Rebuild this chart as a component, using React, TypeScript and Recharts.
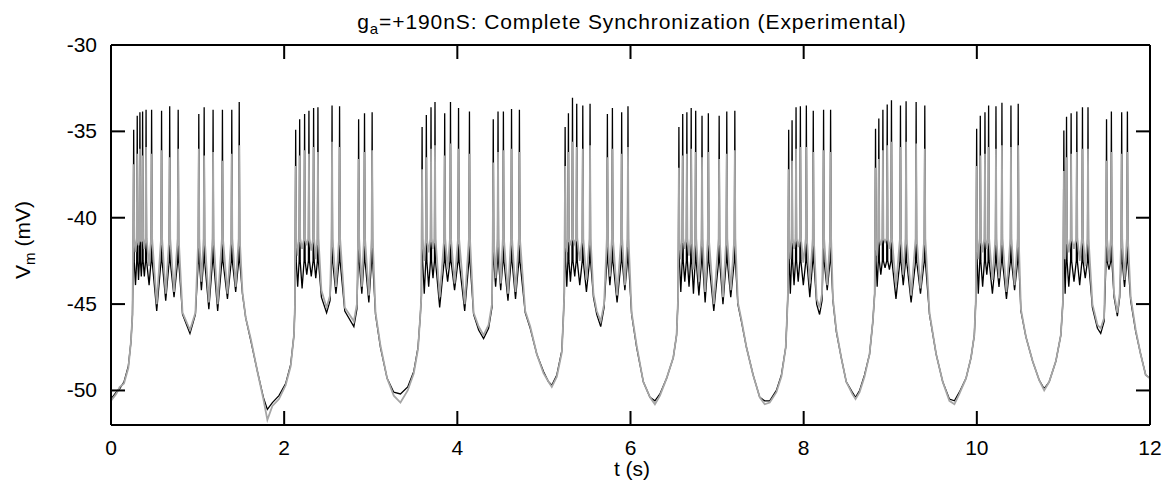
import React from 'react';
import { LineChart, Line, XAxis, YAxis } from 'recharts';

// spikes: [time (s), black peak (mV), gray peak (mV)]
const spikes: [number, number, number][] = [
    // burst A
    [0.262, -34.9, -36.9], [0.303, -34.1, -36.3], [0.334, -33.9, -36.0], [0.365, -33.85, -36.4],
    [0.405, -33.75, -35.9], [0.469, -33.75, -36.3], [0.584, -33.8, -36.1], [0.678, -33.55, -36.5],
    [0.776, -33.75, -36.0], [1.014, -34.0, -36.0], [1.076, -33.6, -36.4], [1.179, -33.75, -36.2],
    [1.287, -33.75, -36.7], [1.395, -33.75, -36.3], [1.481, -33.3, -35.8],
    // burst B
    [2.133, -34.9, -37.0], [2.179, -34.3, -36.4], [2.236, -34.0, -36.1], [2.286, -33.8, -36.3],
    [2.340, -33.65, -35.9], [2.390, -33.6, -36.2], [2.553, -33.5, -35.6], [2.640, -33.55, -35.9],
    [2.860, -34.3, -36.6], [2.928, -33.95, -36.2], [3.016, -33.9, -36.1],
    // burst C
    [3.593, -34.75, -37.2], [3.642, -34.05, -36.5], [3.696, -33.6, -36.0], [3.742, -33.3, -35.8],
    [3.854, -33.95, -36.4], [3.921, -33.3, -35.7], [4.014, -33.65, -36.0], [4.140, -33.85, -36.3],
    [4.415, -34.3, -36.8], [4.470, -33.85, -36.2], [4.532, -33.85, -36.1], [4.626, -33.7, -36.0],
    [4.717, -33.75, -36.2],
    // burst D
    [5.245, -34.75, -37.0], [5.283, -33.95, -36.2], [5.330, -33.05, -35.6], [5.379, -33.4, -35.9],
    [5.449, -33.5, -36.0], [5.533, -33.4, -35.8], [5.733, -34.0, -36.5], [5.791, -33.65, -36.0],
    [5.898, -33.9, -36.3], [5.971, -33.55, -35.9],
    // burst E
    [6.559, -34.75, -37.1], [6.603, -34.0, -36.4], [6.651, -33.9, -36.3], [6.701, -33.65, -36.0],
    [6.753, -33.8, -36.2], [6.826, -34.1, -36.5], [6.899, -33.95, -36.2], [7.024, -34.1, -36.6],
    [7.112, -33.85, -36.3], [7.205, -33.8, -36.1],
    // burst F
    [7.827, -34.9, -37.2], [7.866, -34.35, -36.7], [7.912, -33.6, -36.0], [7.962, -33.55, -35.9],
    [8.031, -33.5, -35.9], [8.111, -33.8, -36.2], [8.230, -33.75, -36.1], [8.311, -33.75, -36.2],
    // burst G
    [8.830, -34.85, -37.1], [8.868, -34.25, -36.6], [8.915, -33.75, -36.1], [8.965, -33.45, -35.8],
    [9.014, -33.2, -35.6], [9.118, -33.5, -35.9], [9.183, -33.25, -35.6], [9.299, -33.3, -35.7],
    [9.399, -33.5, -36.0],
    // burst H
    [9.998, -34.85, -37.0], [10.040, -34.1, -36.4], [10.094, -33.9, -36.3], [10.136, -33.5, -35.9],
    [10.221, -33.55, -36.0], [10.290, -33.35, -35.8], [10.394, -33.5, -35.9], [10.478, -33.4, -35.8],
    // burst I
    [11.005, -34.95, -37.3], [11.036, -34.15, -36.5], [11.089, -33.95, -36.3], [11.155, -33.85, -36.2],
    [11.220, -33.6, -36.0], [11.284, -33.6, -36.0], [11.498, -34.3, -36.7], [11.554, -33.85, -36.2],
    [11.673, -33.9, -36.3], [11.739, -33.85, -36.2],
];

// slow wave and inter-spike troughs: [time (s), black (mV), gray (mV)]
const slowWave: [number, number, number][] = [
    [0.000, -50.5, -50.6], [0.060, -50.1, -50.2], [0.100, -49.9, -49.8], [0.150, -49.5, -49.6],
    [0.200, -48.6, -48.7], [0.230, -47.2, -47.2], [0.248, -45.6, -45.6],
    [0.283, -43.9, -42.0], [0.318, -43.6, -41.6], [0.350, -43.4, -41.4], [0.385, -43.4, -41.8],
    [0.440, -43.9, -42.8], [0.528, -45.4, -45.0], [0.632, -44.8, -44.4], [0.728, -44.6, -44.3],
    [0.826, -45.6, -45.5], [0.912, -46.7, -46.5], [0.975, -45.6, -45.5],
    [1.044, -44.2, -43.7], [1.130, -45.3, -44.9], [1.232, -45.4, -45.0], [1.345, -44.7, -44.4],
    [1.440, -44.3, -44.0],
    [1.518, -44.4, -44.3], [1.556, -45.8, -45.8], [1.614, -47.1, -47.0], [1.691, -48.9, -48.9],
    [1.760, -50.4, -50.5], [1.806, -51.1, -51.7], [1.864, -50.7, -50.9], [1.940, -50.3, -50.5],
    [2.017, -49.6, -49.7], [2.075, -48.5, -48.6], [2.113, -46.8, -46.8], [2.125, -45.0, -45.0],
    [2.156, -44.0, -42.2], [2.207, -44.1, -41.8], [2.261, -43.3, -41.6], [2.313, -43.4, -41.9],
    [2.365, -43.5, -42.4], [2.430, -44.6, -44.2], [2.490, -45.5, -45.2], [2.530, -44.8, -44.5],
    [2.598, -44.4, -44.0], [2.700, -45.4, -45.2], [2.805, -46.3, -46.0], [2.840, -45.3, -45.0],
    [2.897, -44.4, -44.0], [2.978, -44.9, -44.5],
    [3.055, -45.6, -45.5], [3.112, -47.5, -47.4], [3.189, -49.3, -49.3], [3.266, -50.1, -50.3],
    [3.343, -50.2, -50.7], [3.427, -49.8, -50.0], [3.497, -48.9, -49.0], [3.546, -47.5, -47.6],
    [3.573, -45.6, -45.6], [3.585, -44.5, -44.5],
    [3.618, -44.4, -42.5], [3.669, -44.0, -42.0], [3.719, -43.5, -41.8], [3.796, -45.2, -44.6],
    [3.888, -43.7, -43.0], [3.968, -44.2, -43.8], [4.085, -45.4, -45.0],
    [4.188, -45.6, -45.5], [4.246, -46.5, -46.3], [4.303, -47.0, -46.8], [4.361, -46.4, -46.2],
    [4.400, -45.2, -45.0], [4.442, -44.0, -43.5], [4.501, -44.2, -43.8], [4.585, -44.8, -44.4],
    [4.672, -44.7, -44.3],
    [4.784, -45.5, -45.4], [4.842, -46.4, -46.3], [4.918, -47.9, -47.9], [4.995, -48.9, -49.0],
    [5.053, -49.5, -49.5], [5.091, -49.7, -49.8], [5.149, -49.1, -49.2], [5.207, -47.7, -47.8],
    [5.226, -45.6, -45.6], [5.236, -44.3, -44.3],
    [5.264, -44.0, -42.0], [5.306, -43.7, -41.6], [5.356, -43.4, -41.5], [5.414, -43.9, -42.5],
    [5.491, -44.3, -43.6], [5.572, -44.6, -44.4], [5.610, -45.6, -45.4], [5.656, -46.3, -46.0],
    [5.695, -45.2, -45.0], [5.762, -43.9, -43.4], [5.845, -44.9, -44.5], [5.935, -44.2, -43.9],
    [6.013, -45.6, -45.5], [6.071, -47.5, -47.4], [6.148, -49.5, -49.5], [6.225, -50.4, -50.4],
    [6.282, -50.6, -50.8], [6.340, -50.2, -50.3], [6.417, -49.3, -49.3], [6.494, -48.1, -48.1],
    [6.532, -46.8, -46.8], [6.550, -44.6, -44.6],
    [6.581, -44.3, -42.4], [6.627, -43.7, -41.8], [6.676, -44.0, -42.2], [6.727, -44.4, -43.0],
    [6.790, -44.5, -43.7], [6.862, -44.9, -44.3], [6.962, -45.4, -45.0], [7.068, -45.0, -44.6],
    [7.158, -44.6, -44.2],
    [7.240, -45.0, -44.9], [7.281, -46.0, -45.9], [7.339, -47.5, -47.5], [7.416, -49.1, -49.1],
    [7.493, -50.4, -50.4], [7.550, -50.6, -50.8], [7.608, -50.6, -50.7], [7.685, -50.0, -50.1],
    [7.743, -49.1, -49.2], [7.793, -47.5, -47.5], [7.809, -45.6, -45.6], [7.818, -44.4, -44.4],
    [7.846, -44.4, -42.4], [7.889, -43.9, -41.8], [7.937, -43.7, -41.7], [7.996, -43.9, -42.6],
    [8.071, -44.6, -43.8], [8.150, -45.0, -44.7], [8.184, -45.6, -45.2], [8.212, -44.8, -44.4],
    [8.272, -44.2, -43.9],
    [8.338, -44.8, -44.7], [8.377, -46.6, -46.5], [8.434, -48.1, -48.1], [8.492, -49.5, -49.5],
    [8.561, -50.1, -50.2], [8.599, -50.4, -50.5], [8.646, -50.0, -50.1], [8.703, -49.1, -49.2],
    [8.761, -47.9, -47.9], [8.799, -46.0, -46.0], [8.820, -44.4, -44.4],
    [8.849, -44.0, -42.2], [8.891, -43.3, -41.6], [8.940, -42.9, -41.4], [8.990, -43.0, -41.8],
    [9.066, -44.7, -44.0], [9.150, -43.9, -43.3], [9.241, -44.9, -44.5], [9.349, -44.4, -44.1],
    [9.453, -45.6, -45.5], [9.530, -47.9, -47.9], [9.606, -49.5, -49.5], [9.683, -50.5, -50.6],
    [9.741, -50.6, -50.8], [9.798, -50.1, -50.2], [9.875, -49.3, -49.3], [9.933, -48.1, -48.1],
    [9.971, -46.8, -46.8], [9.988, -44.8, -44.8],
    [10.017, -44.4, -42.4], [10.067, -44.0, -42.0], [10.115, -43.3, -41.8], [10.180, -44.4, -43.6],
    [10.256, -44.0, -43.5], [10.342, -44.7, -44.3], [10.436, -44.2, -43.9],
    [10.509, -45.4, -45.3], [10.567, -46.9, -46.9], [10.644, -48.3, -48.3], [10.720, -49.4, -49.4],
    [10.778, -49.9, -50.0], [10.836, -49.5, -49.5], [10.913, -48.3, -48.3], [10.970, -46.8, -46.8],
    [10.995, -44.8, -44.8],
    [11.020, -44.4, -42.4], [11.062, -44.0, -42.0], [11.122, -43.7, -41.8], [11.188, -43.9, -42.5],
    [11.252, -43.5, -42.8], [11.335, -45.2, -45.0], [11.393, -46.4, -46.2], [11.431, -46.7, -46.4],
    [11.470, -46.0, -45.8], [11.526, -43.0, -42.6], [11.585, -44.6, -44.4], [11.623, -45.7, -45.5],
    [11.650, -44.6, -44.4], [11.706, -44.0, -43.6],
    [11.777, -44.8, -44.6], [11.835, -46.6, -46.5], [11.892, -47.9, -47.9], [11.950, -49.1, -49.1],
    [12.000, -49.3, -49.3],
];

const xTicks = [0, 2, 4, 6, 8, 10, 12];
const yTicks = [-50, -45, -40, -35, -30];
const X_DOMAIN: [number, number] = [0, 12];
const Y_DOMAIN: [number, number] = [-52, -30];

// each spike is drawn as a thin spike: shoulder, peak, shoulder
const SPIKE_HALF = 0.006;
const SHOULDER_BLACK = -42.5;
const SHOULDER_GRAY = -41.2;

type Pt = { t: number; vb: number; vg: number };
const points: Pt[] = [];
slowWave.forEach(([t, vb, vg]) => points.push({ t, vb, vg }));
spikes.forEach(([t, vb, vg]) => {
    points.push({ t: t - SPIKE_HALF, vb: SHOULDER_BLACK, vg: SHOULDER_GRAY });
    points.push({ t, vb, vg });
    points.push({ t: t + SPIKE_HALF, vb: SHOULDER_BLACK, vg: SHOULDER_GRAY });
});
points.sort((a, b) => a.t - b.t);

const FONT = '"Liberation Sans", Arial, Helvetica, sans-serif';
const W = 1162;
const H = 486;
// plot box, follows from the chart margins and axis sizes below
const BOX = { left: 111, right: 1150, top: 45, bottom: 425 };
const TICK_LEN = 14;
const px = (t: number) => BOX.left + ((t - X_DOMAIN[0]) / (X_DOMAIN[1] - X_DOMAIN[0])) * (BOX.right - BOX.left);
const py = (v: number) => BOX.top + ((Y_DOMAIN[1] - v) / (Y_DOMAIN[1] - Y_DOMAIN[0])) * (BOX.bottom - BOX.top);

const innerX = xTicks.filter((t) => t > X_DOMAIN[0] && t < X_DOMAIN[1]);
const innerY = yTicks.filter((v) => v > Y_DOMAIN[0] && v < Y_DOMAIN[1]);

const LeftTick = ({ x, y, payload }: any) => (
    <text x={x} y={y} dy={7} textAnchor="end" fontSize={21} fontFamily={FONT} fill="#000">
        {payload.value}
    </text>
);

const BottomTick = ({ x, y, payload }: any) => (
    <text x={x} y={y + 30} textAnchor="middle" fontSize={21} fontFamily={FONT} fill="#000">
        {payload.value}
    </text>
);

const axisLine = { stroke: '#000', strokeWidth: 2 };

export default function App() {
    return (
        <div style={{ position: 'absolute', left: 0, top: 0, width: W, height: H, background: '#fff' }}>
            <LineChart width={W} height={H} data={points} margin={{ top: 44, right: 11, bottom: 21, left: 0 }}>
                <XAxis
                    xAxisId="bottom"
                    dataKey="t"
                    type="number"
                    domain={X_DOMAIN}
                    ticks={xTicks}
                    height={40}
                    tickSize={0}
                    tickMargin={0}
                    tickLine={false}
                    axisLine={axisLine}
                    tick={<BottomTick />}
                    interval={0}
                    allowDataOverflow
                />
                <XAxis
                    xAxisId="top"
                    orientation="top"
                    type="number"
                    domain={X_DOMAIN}
                    height={1}
                    tickLine={false}
                    axisLine={axisLine}
                    tick={false}
                    allowDataOverflow
                />
                <YAxis
                    yAxisId="left"
                    type="number"
                    domain={Y_DOMAIN}
                    ticks={yTicks}
                    width={111}
                    tickSize={0}
                    tickMargin={14}
                    tickLine={false}
                    axisLine={axisLine}
                    tick={<LeftTick />}
                    interval={0}
                    allowDataOverflow
                />
                <YAxis
                    yAxisId="right"
                    orientation="right"
                    type="number"
                    domain={Y_DOMAIN}
                    width={1}
                    tickLine={false}
                    axisLine={axisLine}
                    tick={false}
                    allowDataOverflow
                />
                <Line
                    xAxisId="bottom"
                    yAxisId="left"
                    type="linear"
                    dataKey="vb"
                    stroke="#000"
                    strokeWidth={1.3}
                    dot={false}
                    isAnimationActive={false}
                />
                <Line
                    xAxisId="bottom"
                    yAxisId="left"
                    type="linear"
                    dataKey="vg"
                    stroke="#a6a6a6"
                    strokeWidth={1.8}
                    dot={false}
                    isAnimationActive={false}
                />
            </LineChart>
            <svg
                width={W}
                height={H}
                style={{ position: 'absolute', left: 0, top: 0, pointerEvents: 'none', zIndex: 2 }}
                fontFamily={FONT}
                fill="#000"
            >
                {/* inward frame ticks, drawn as rects so each is a solid bar */}
                {innerX.map((t) => (
                    <rect key={`xb${t}`} x={px(t) - 1} y={BOX.bottom - TICK_LEN} width={2} height={TICK_LEN} fill="#000" />
                ))}
                {innerX.map((t) => (
                    <rect key={`xt${t}`} x={px(t) - 1} y={BOX.top} width={2} height={TICK_LEN} fill="#000" />
                ))}
                {innerY.map((v) => (
                    <rect key={`yl${v}`} x={BOX.left} y={py(v) - 1} width={TICK_LEN} height={2} fill="#000" />
                ))}
                {innerY.map((v) => (
                    <rect key={`yr${v}`} x={BOX.right - TICK_LEN} y={py(v) - 1} width={TICK_LEN} height={2} fill="#000" />
                ))}
                <text x={632} y={29} textAnchor="middle" fontSize={21} letterSpacing={0.9}>
                    g<tspan fontSize={15} dy={5}>a</tspan>
                    <tspan dy={-5}>=+190nS: Complete Synchronization (Experimental)</tspan>
                </text>
                <text transform="translate(30,240) rotate(-90)" textAnchor="middle" fontSize={21}>
                    V<tspan fontSize={15} dy={5}>m</tspan>
                    <tspan dy={-5}> (mV)</tspan>
                </text>
                <text x={632} y={476} textAnchor="middle" fontSize={21}>
                    t (s)
                </text>
            </svg>
        </div>
    );
}
